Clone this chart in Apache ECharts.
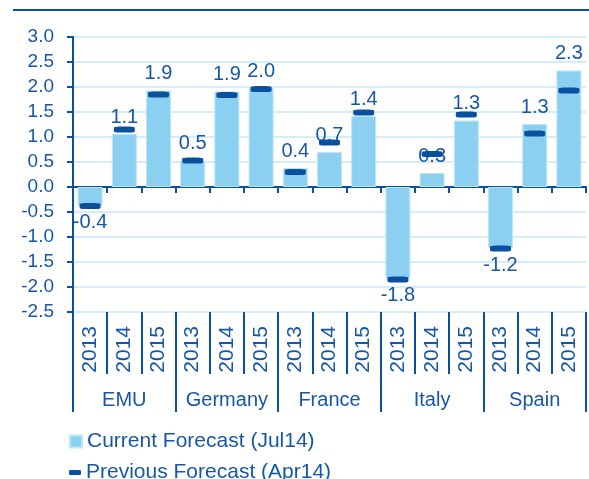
<!DOCTYPE html>
<html>
<head>
<meta charset="utf-8">
<script src="https://cdn.jsdelivr.net/npm/echarts@6/dist/echarts.min.js"></script>
<style>
html,body{margin:0;padding:0;background:#fff;}
#chart{width:589px;height:479px;}
</style>
</head>
<body>
<div id="chart"></div>
<script>
const countries = ['EMU', 'Germany', 'France', 'Italy', 'Spain'];
const years = ['2013', '2014', '2015'];
const currentForecast = [-0.37, 1.06, 1.93, 0.53, 1.91, 1.98, 0.38, 0.70, 1.42, -1.83, 0.28, 1.33, -1.22, 1.26, 2.33];
const previousForecast = [-0.38, 1.15, 1.85, 0.53, 1.84, 1.96, 0.30, 0.89, 1.49, -1.85, 0.66, 1.45, -1.23, 1.07, 1.93];
const yTicks = { min: -2.5, max: 3.0, step: 0.5 };
const seriesNames = ['Current Forecast (Jul14)', 'Previous Forecast (Apr14)'];

const categories = [];
countries.forEach(c => years.forEach(y => categories.push(c + '|' + y)));

const FONT = "'Liberation Sans', Arial, sans-serif";
const TEXT = '#1757a8';
const DARK = '#0b4f9f';
const BAR = '#8bd0f0';
const GRID = '#d5edf9';

const chart = echarts.init(document.getElementById('chart'), null, { renderer: 'canvas' });

const option = {
  animation: false,
  backgroundColor: '#ffffff',
  textStyle: { fontFamily: FONT },
  graphic: [{
    type: 'line',
    shape: { x1: 13, y1: 10, x2: 589, y2: 10 },
    style: { stroke: DARK, lineWidth: 2 }
  }],
  grid: { left: 73, top: 37, width: 513, height: 275, containLabel: false },
  legend: [{
    data: [{ name: seriesNames[0], icon: 'rect' }],
    left: 64, top: 426, itemWidth: 12, itemHeight: 12,
    textStyle: { color: TEXT, fontSize: 21, fontFamily: FONT }
  }, {
    data: [{ name: seriesNames[1], icon: 'roundRect' }],
    left: 64, top: 457, itemWidth: 12, itemHeight: 5,
    textStyle: { color: TEXT, fontSize: 21, fontFamily: FONT }
  }],
  xAxis: [{
    type: 'category',
    data: categories,
    position: 'bottom',
    axisLine: { show: false, onZero: false },
    axisTick: { show: true, interval: 0, length: 62, lineStyle: { color: DARK, width: 2 } },
    axisLabel: {
      interval: 0, rotate: 90, margin: 14, fontSize: 21, color: TEXT, fontFamily: FONT,
      formatter: v => v.split('|')[1]
    },
    splitLine: { show: false }
  }, {
    type: 'category',
    data: countries,
    position: 'bottom',
    axisLine: { show: false, onZero: false },
    axisTick: { show: true, interval: 0, length: 100, lineStyle: { color: DARK, width: 2 } },
    axisLabel: { interval: 0, margin: 78, fontSize: 20, color: TEXT, fontFamily: FONT },
    splitLine: { show: false }
  }, {
    type: 'category',
    data: categories,
    position: 'bottom',
    axisLine: { show: true, onZero: true, lineStyle: { color: DARK, width: 2 } },
    axisTick: { show: true, interval: 0, length: 6, lineStyle: { color: DARK, width: 2 } },
    axisLabel: { show: false },
    splitLine: { show: false }
  }],
  yAxis: {
    type: 'value',
    min: yTicks.min, max: yTicks.max, interval: yTicks.step,
    axisLine: { show: true, lineStyle: { color: DARK, width: 2 } },
    axisTick: { show: true, length: 6, lineStyle: { color: DARK, width: 2 } },
    axisLabel: { margin: 19, fontSize: 19, color: TEXT, fontFamily: FONT, formatter: v => v.toFixed(1) },
    splitLine: { show: true, lineStyle: { color: GRID, width: 2 } }
  },
  series: [{
    name: seriesNames[0],
    type: 'bar',
    xAxisIndex: 0,
    barWidth: 25,
    itemStyle: { color: BAR, borderColor: '#bde5f8', borderWidth: 1 },
    label: {
      show: true, distance: 7, fontSize: 20, color: TEXT, fontFamily: FONT,
      formatter: p => p.value.toFixed(1)
    },
    data: currentForecast.map(v => ({ value: v, label: { position: v < 0 ? 'bottom' : 'top' } })),
    z: 2
  }, {
    name: seriesNames[1],
    type: 'scatter',
    xAxisIndex: 0,
    symbol: 'roundRect',
    symbolSize: [21, 6],
    itemStyle: { color: DARK, opacity: 1 },
    data: previousForecast,
    z: 3
  }]
};
chart.setOption(option);
</script>
</body>
</html>
